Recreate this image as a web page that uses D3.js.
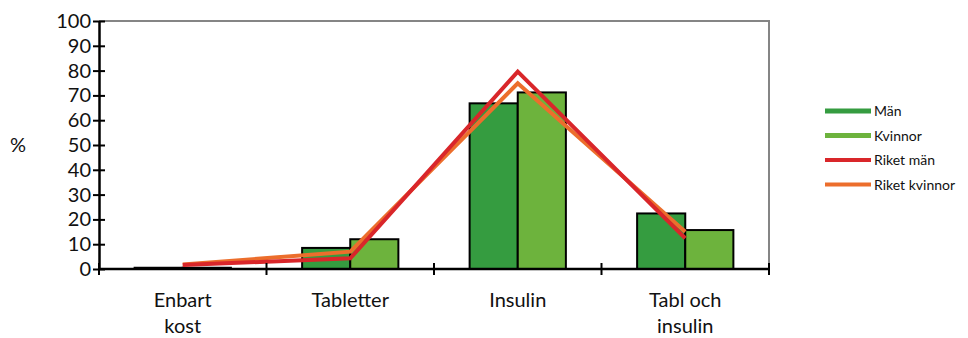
<!DOCTYPE html>
<html><head><meta charset="utf-8">
<script src="https://cdn.jsdelivr.net/npm/d3@7"></script>
<style>body{margin:0;background:#fff;} svg{display:block;font-family:Lato, 'Noto Sans', sans-serif;}</style>
</head><body>
<script>
const categories = [["Enbart","kost"],["Tabletter"],["Insulin"],["Tabl och","insulin"]];
const man = [0.5, 8.5, 66.8, 22.4];
const kvinnor = [0.5, 12, 71.2, 15.7];
const riketMan = [1.6, 4.3, 79.6, 12.4];
const riketKvinnor = [1.8, 7, 74.9, 15];
const yTicks = [0,10,20,30,40,50,60,70,80,90,100];
const legendLabels = ["Män","Kvinnor","Riket män","Riket kvinnor"];

const W=968,H=338;
const colors = {man:"#359c40", kv:"#6db33d", rm:"#d9262a", rk:"#ec6e2c"};
const svg = d3.select("body").append("svg").attr("width",W).attr("height",H);
const x0 = 99, x1 = 769, yTop = 21, yBot = 269;
const x = d3.scaleBand().domain(d3.range(4)).range([x0,x1]).paddingInner(0).paddingOuter(0);
const xs = d3.scaleBand().domain([0,1]).range([0,x.bandwidth()]).paddingInner(0).paddingOuter(0.74);
const y = d3.scaleLinear().domain([0,100]).range([yBot,yTop]);

// frame (top and right)
svg.append("path").attr("d",`M${x0},${yTop}H${x1}V${yBot}`).attr("fill","none").attr("stroke","#858585").attr("stroke-width",2);

// bars
const g = svg.append("g");
[man,kvinnor].forEach((arr,si)=>{
  g.selectAll(null).data(arr).enter().append("rect")
    .attr("x",(d,i)=>x(i)+xs(si))
    .attr("y",d=>y(d))
    .attr("width",xs.bandwidth())
    .attr("height",d=>yBot-y(d))
    .attr("fill",si===0?colors.man:colors.kv)
    .attr("stroke","#000").attr("stroke-width",2);
});

// lines
const line = d3.line().x((d,i)=>x(i)+x.bandwidth()/2).y(d=>y(d));
svg.append("path").datum(riketKvinnor).attr("d",line).attr("fill","none").attr("stroke",colors.rk).attr("stroke-width",4);
svg.append("path").datum(riketMan).attr("d",line).attr("fill","none").attr("stroke",colors.rm).attr("stroke-width",4);

// y axis
const ya = svg.append("g").attr("transform",`translate(${x0},0)`)
  .call(d3.axisLeft(y).tickValues(yTicks).tickSize(0).tickPadding(10));
ya.select(".domain").attr("stroke","#000").attr("stroke-width",2.5);
ya.selectAll(".tick line").remove();
ya.selectAll(".tick").append("line").attr("x1",-6).attr("x2",6).attr("stroke","#000").attr("stroke-width",2);
ya.selectAll("text").attr("font-size",20).attr("fill","#111").attr("font-family","Lato, sans-serif");
ya.selectAll(".tick text").attr("x",-8);

// x axis
const xa = svg.append("g");
xa.append("line").attr("x1",x0).attr("x2",x1).attr("y1",yBot).attr("y2",yBot).attr("stroke","#000").attr("stroke-width",2.5);
const bounds = d3.range(5).map(i=> i<4 ? x(i) : x1);
xa.selectAll(null).data(bounds).enter().append("line")
  .attr("x1",d=>d).attr("x2",d=>d).attr("y1",yBot-6).attr("y2",yBot+6)
  .attr("stroke","#000").attr("stroke-width",2);
categories.forEach((lines,i)=>{
  const t = xa.append("text").attr("text-anchor","middle").attr("font-size",20).attr("fill","#111")
    .attr("x",x(i)+x.bandwidth()/2).attr("y",307);
  lines.forEach((l,j)=>t.append("tspan").attr("x",x(i)+x.bandwidth()/2).attr("dy",j===0?0:26).text(l));
});

// y label
svg.append("text").attr("x",18).attr("y",152).attr("text-anchor","middle").attr("font-size",20).attr("fill","#111").text("%");

// legend
const lcol=[colors.man,colors.kv,colors.rm,colors.rk];
const lw=[5,5,4,4];
const lg = svg.append("g");
legendLabels.forEach((l,i)=>{
  const yy = 111 + i*24.5;
  lg.append("line").attr("x1",825).attr("x2",871).attr("y1",yy).attr("y2",yy).attr("stroke",lcol[i]).attr("stroke-width",lw[i]);
  lg.append("text").attr("x",874).attr("y",yy+5).attr("font-size",14).attr("fill","#111").text(l);
});
</script>
</body></html>
